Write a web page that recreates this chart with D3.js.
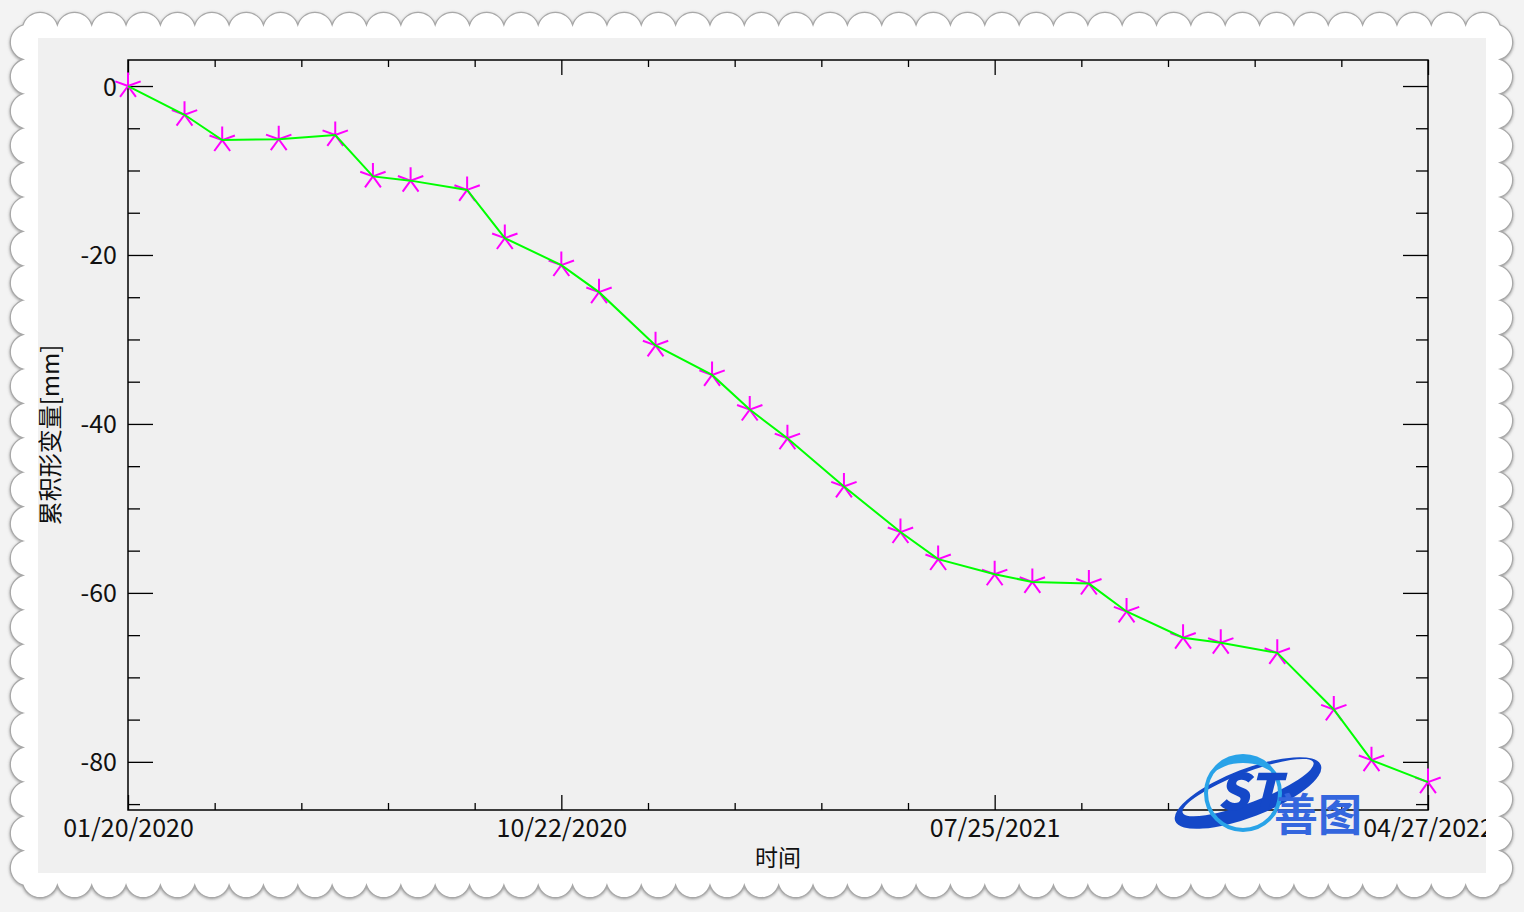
<!DOCTYPE html>
<html>
<head>
<meta charset="utf-8">
<script src="https://cdn.jsdelivr.net/npm/d3@7"></script>
<style>
  html, body { margin: 0; padding: 0; background: #f3f3f3; }
  svg { display: block; }
  text { font-family: "Noto Sans CJK SC", "Noto Sans", sans-serif; }
</style>
</head>
<body>
<svg id="chart" width="1524" height="912"></svg>
<script>
// ---- data ----
const dates = ["2020-01-20","2020-02-25","2020-03-20","2020-04-25","2020-05-31","2020-06-24",
  "2020-07-18","2020-08-23","2020-09-16","2020-10-22","2020-11-15","2020-12-21","2021-01-26",
  "2021-02-19","2021-03-15","2021-04-20","2021-05-26","2021-06-19","2021-07-25","2021-08-18",
  "2021-09-23","2021-10-17","2021-11-22","2021-12-16","2022-01-21","2022-02-26","2022-03-22",
  "2022-04-27"];
const values = [0, -3.4, -6.4, -6.3, -5.8, -10.7, -11.2, -12.3, -18.0, -21.2, -24.4, -30.7, -34.2,
  -38.3, -41.7, -47.4, -52.8, -56.0, -57.8, -58.7, -58.9, -62.2, -65.3, -65.9, -67.1, -73.8,
  -79.8, -82.4];
const xMajorTicks = ["2020-01-20", "2020-10-22", "2021-07-25", "2022-04-27"];
const yMajorTicks = [0, -20, -40, -60, -80];
const yMinorTicks = [-5, -10, -15, -25, -30, -35, -45, -50, -55, -65, -70, -75, -85];
const xLabel = "时间";
const yLabel = "累积形变量[mm]";

const parse = d3.timeParse("%Y-%m-%d");
const fmt = d3.timeFormat("%m/%d/%Y");
const data = dates.map((d, i) => ({ date: parse(d), value: values[i] }));

const svg = d3.select("#chart");
const W = 1524, H = 912;
const FONT = "\"Noto Sans CJK SC\", \"Noto Sans\", sans-serif";

// ---- scalloped frame ----
const defs = svg.append("defs");
const f = defs.append("filter").attr("id", "sh").attr("x", "-5%").attr("y", "-5%").attr("width", "110%").attr("height", "110%");
f.append("feDropShadow").attr("dx", 0).attr("dy", 1).attr("stdDeviation", 1.6).attr("flood-color", "#777").attr("flood-opacity", 0.7);

function scallopPath(L, T, R, B, step, r) {
  let p = `M${L},${T}`;
  const nx = Math.round((R - L) / step), ny = Math.round((B - T) / step);
  const sx = (R - L) / nx, sy = (B - T) / ny;
  for (let i = 1; i <= nx; i++) p += ` A${r},${r} 0 0 1 ${L + i * sx},${T}`;
  for (let i = 1; i <= ny; i++) p += ` A${r},${r} 0 0 1 ${R},${T + i * sy}`;
  for (let i = 1; i <= nx; i++) p += ` A${r},${r} 0 0 1 ${R - i * sx},${B}`;
  for (let i = 1; i <= ny; i++) p += ` A${r},${r} 0 0 1 ${L},${B - i * sy}`;
  return p + "Z";
}
svg.append("rect").attr("width", W).attr("height", H).attr("fill", "#f3f3f3");
svg.append("path")
  .attr("d", scallopPath(23, 25, 1500, 885, 34, 18))
  .attr("fill", "#ffffff").attr("stroke", "#a8a8a8").attr("stroke-width", 1.2)
  .attr("filter", "url(#sh)");

// inner panel
const panel = { x: 38, y: 38, w: 1448, h: 835 };
svg.append("rect").attr("x", panel.x).attr("y", panel.y).attr("width", panel.w).attr("height", panel.h).attr("fill", "#f0f0f0");
defs.append("clipPath").attr("id", "pclip").append("rect")
  .attr("x", panel.x).attr("y", panel.y).attr("width", panel.w).attr("height", panel.h);

const g = svg.append("g").attr("clip-path", "url(#pclip)");

// ---- scales ----
const plot = { l: 128, r: 1428, t: 60, b: 810 };
const x = d3.scaleTime().domain([parse(xMajorTicks[0]), parse(xMajorTicks[xMajorTicks.length - 1])]).range([plot.l, plot.r]);
const y = d3.scaleLinear().domain([-85.7, 3.08]).range([plot.b, plot.t]);

// minor x ticks: 5 subdivisions between majors
const xMinor = [];
for (let i = 0; i < xMajorTicks.length - 1; i++) {
  const a = parse(xMajorTicks[i]).getTime(), b = parse(xMajorTicks[i + 1]).getTime();
  for (let k = 1; k < 5; k++) xMinor.push(new Date(a + (b - a) * k / 5));
}
const xMaj = xMajorTicks.map(parse);

// ---- axes (box with inward ticks) ----
function styleAxis(sel) {
  sel.select(".domain").remove();
  sel.selectAll("line").attr("stroke", "#000").attr("stroke-width", 1.3);
}
// bottom
g.append("g").attr("transform", `translate(0,${plot.b})`)
  .call(d3.axisBottom(x).tickValues(xMinor).tickSize(-7).tickFormat(""))
  .call(styleAxis);
const bx = g.append("g").attr("transform", `translate(0,${plot.b})`)
  .call(d3.axisBottom(x).tickValues(xMaj).tickSize(-15).tickFormat(fmt).tickPadding(0))
  .call(styleAxis);
bx.selectAll("text").attr("font-size", 25).attr("dy", 0).attr("y", 27)
  .style("fill", "#111").attr("font-family", FONT);
// top
g.append("g").attr("transform", `translate(0,${plot.t})`)
  .call(d3.axisTop(x).tickValues(xMinor).tickSize(-7).tickFormat(""))
  .call(styleAxis);
g.append("g").attr("transform", `translate(0,${plot.t})`)
  .call(d3.axisTop(x).tickValues(xMaj).tickSize(-15).tickFormat(""))
  .call(styleAxis);
// left
g.append("g").attr("transform", `translate(${plot.l},0)`)
  .call(d3.axisLeft(y).tickValues(yMinorTicks).tickSize(-12).tickFormat(""))
  .call(styleAxis);
const ly = g.append("g").attr("transform", `translate(${plot.l},0)`)
  .call(d3.axisLeft(y).tickValues(yMajorTicks).tickSize(-25).tickFormat(d => String(d)).tickPadding(0))
  .call(styleAxis);
ly.selectAll("text").attr("font-size", 25).attr("x", -11).attr("dy", "0.36em")
  .style("fill", "#111").attr("font-family", FONT);
// right
g.append("g").attr("transform", `translate(${plot.r},0)`)
  .call(d3.axisRight(y).tickValues(yMinorTicks).tickSize(-12).tickFormat(""))
  .call(styleAxis);
g.append("g").attr("transform", `translate(${plot.r},0)`)
  .call(d3.axisRight(y).tickValues(yMajorTicks).tickSize(-25).tickFormat(""))
  .call(styleAxis);
// box
g.append("rect").attr("x", plot.l).attr("y", plot.t).attr("width", plot.r - plot.l).attr("height", plot.b - plot.t)
  .attr("fill", "none").attr("stroke", "#000").attr("stroke-width", 1.5);

// ---- markers (5-armed asterisk) ----
const armLen = 13.5;
const angles = [90, 20, 160, -54, -126].map(a => a * Math.PI / 180);
const armPath = angles.map(a => `M0,0L${(armLen * Math.cos(a)).toFixed(2)},${(-armLen * Math.sin(a)).toFixed(2)}`).join("");
g.append("g").selectAll("path").data(data).join("path")
  .attr("transform", d => `translate(${x(d.date)},${y(d.value)})`)
  .attr("d", armPath)
  .attr("stroke", "#ff00ff").attr("stroke-width", 2).attr("fill", "none");

// ---- line ----
g.append("path").datum(data)
  .attr("d", d3.line().x(d => x(d.date)).y(d => y(d.value)))
  .attr("fill", "none").attr("stroke", "#00ff00").attr("stroke-width", 2);

// ---- axis titles ----
g.append("text").attr("x", (plot.l + plot.r) / 2).attr("y", 866).attr("text-anchor", "middle")
  .attr("font-size", 23).style("fill", "#111").text(xLabel);
g.append("text").attr("transform", `translate(59,${(plot.t + plot.b) / 2}) rotate(-90)`)
  .attr("text-anchor", "middle").attr("font-size", 24).style("fill", "#111").text(yLabel);

// ---- watermark logo ----
const logo = g.append("g").attr("transform", "translate(1248,793)");
// swoosh: crescent ring of a tilted ellipse
function ell(cx, cy, rx, ry) {
  return `M${cx - rx},${cy} A${rx},${ry} 0 1 0 ${cx + rx},${cy} A${rx},${ry} 0 1 0 ${cx - rx},${cy} Z`;
}
logo.append("path")
  .attr("transform", "rotate(-21)")
  .attr("d", ell(0, 0, 78, 24) + ell(2, -5, 70, 15))
  .attr("fill-rule", "evenodd")
  .attr("fill", "#1448c8");
// ring (light blue)
logo.append("circle").attr("cx", -5).attr("r", 37).attr("fill", "none").attr("stroke", "#29a3e8").attr("stroke-width", 4);
logo.append("path").attr("transform", "translate(-5,0)").attr("d", "M-33,-17 A37,37 0 0 1 33,-17 A40,30 0 0 0 -33,-17 Z")
  .attr("fill", "#29a3e8");
logo.append("text").attr("x", -31).attr("y", 17).attr("font-size", 50).attr("font-weight", 900)
  .attr("font-style", "italic").style("fill", "#1448c8")
  .attr("font-family", "\"Liberation Sans\", sans-serif").text("ST");
logo.append("text").attr("x", 26).attr("y", 38).attr("font-size", 44).attr("font-weight", 700)
  .style("fill", "#3466de").text("善图");
</script>
</body>
</html>
